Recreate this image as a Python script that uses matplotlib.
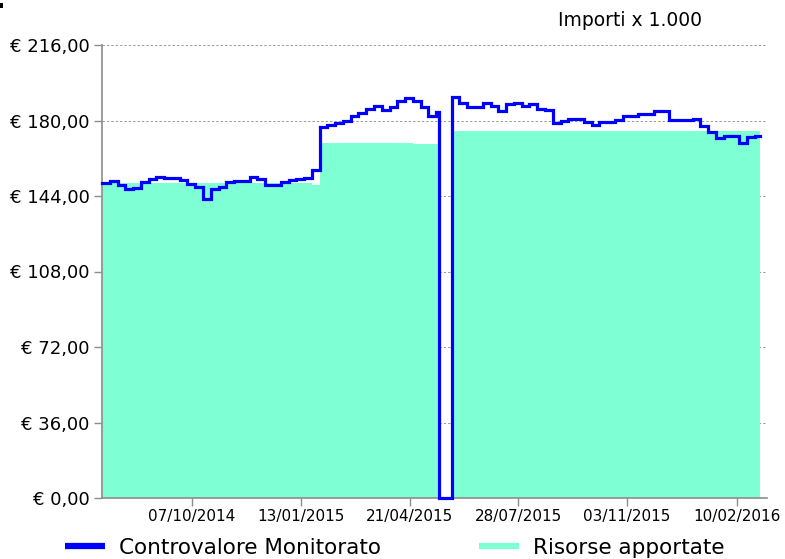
import matplotlib
matplotlib.use("Agg")
import matplotlib.pyplot as plt
import matplotlib.dates as mdates
from matplotlib.lines import Line2D
from matplotlib.patches import Rectangle
import pandas as pd

# ============================================================
# DATI (importi x 1.000)
# ============================================================

CTRL_DATES = [
    "2014-07-18", "2014-07-25", "2014-08-01", "2014-08-08", "2014-08-15",
    "2014-08-22", "2014-08-29", "2014-09-05", "2014-09-12", "2014-09-26",
    "2014-10-03", "2014-10-10", "2014-10-17", "2014-10-24", "2014-10-31",
    "2014-11-07", "2014-11-14", "2014-11-28", "2014-12-05", "2014-12-12",
    "2014-12-26", "2015-01-02", "2015-01-09", "2015-01-16", "2015-01-23",
    "2015-01-30", "2015-02-06", "2015-02-13", "2015-02-20", "2015-02-27",
    "2015-03-06", "2015-03-13", "2015-03-20", "2015-03-27", "2015-04-03",
    "2015-04-10", "2015-04-17", "2015-04-24", "2015-05-01", "2015-05-08",
    "2015-05-15", "2015-05-18", "2015-05-29", "2015-06-05", "2015-06-12",
    "2015-06-26", "2015-07-03", "2015-07-10", "2015-07-17", "2015-07-24",
    "2015-07-31", "2015-08-07", "2015-08-14", "2015-08-21", "2015-08-28",
    "2015-09-04", "2015-09-11", "2015-09-25", "2015-10-02", "2015-10-09",
    "2015-10-16", "2015-10-23", "2015-10-30", "2015-11-13", "2015-11-27",
    "2015-12-11", "2016-01-01", "2016-01-08", "2016-01-15", "2016-01-22",
    "2016-01-29", "2016-02-05", "2016-02-12", "2016-02-19", "2016-02-26",
]
CTRL_VALUES = [
    150.0, 151.2, 149.3, 147.4, 148.0,
    150.8, 152.1, 153.2, 152.5, 151.6,
    149.7, 148.5, 142.4, 147.4, 148.5,
    150.5, 151.2, 153.2, 152.1, 149.4,
    150.8, 151.6, 152.0, 152.5, 156.4,
    177.1, 177.9, 178.6, 180.0, 182.0,
    183.8, 185.3, 187.0, 185.0, 186.3,
    189.3, 190.6, 189.3, 186.6, 182.3,
    183.9, 0.0, 191.1, 188.2, 186.6,
    188.2, 187.1, 184.5, 187.7, 188.2,
    187.1, 187.7, 185.5, 185.0, 179.0,
    180.0, 180.7, 179.3, 177.8, 179.2,
    179.5, 180.3, 182.2, 183.1, 184.6,
    180.3, 180.8, 177.5, 174.5, 171.8,
    172.8, 172.4, 169.3, 171.9, 172.7,
]

RIS_DATES = ["2014-07-18", "2015-01-23", "2015-01-30", "2015-04-24",
             "2015-05-18", "2015-05-29"]
RIS_VALUES = [150.2, 149.4, 169.2, 168.9, 0.0, 175.2]

END_DATE = "2016-03-02"

Y_TICKS = [0, 36, 72, 108, 144, 180, 216]
X_TICKS = ["2014-10-07", "2015-01-13", "2015-04-21", "2015-07-28",
           "2015-11-03", "2016-02-10"]
X_LIMITS = ["2014-07-18", "2016-03-08"]

LINE_COLOR = "#0000FF"
FILL_COLOR = "#7FFFD4"
AXIS_COLOR = "#8c8c8c"


def euro(v, pos=None):
    s = f"{v:,.2f}".replace(",", "X").replace(".", ",").replace("X", ".")
    return "€ " + s


# ============================================================
# GRAFICO
# ============================================================

fig = plt.figure(figsize=(7.85, 5.59), dpi=100)
ax = fig.add_axes([102 / 785, 61 / 559, 665 / 785, 453 / 559])

ris_x = pd.to_datetime(RIS_DATES + [END_DATE])
ris_y = RIS_VALUES + [RIS_VALUES[-1]]
ax.fill_between(ris_x, ris_y, 0, step="post", color=FILL_COLOR, lw=0, zorder=1)

ctrl_x = pd.to_datetime(CTRL_DATES + [END_DATE])
ctrl_y = CTRL_VALUES + [CTRL_VALUES[-1]]
ax.plot(ctrl_x, ctrl_y, drawstyle="steps-post", color=LINE_COLOR, lw=2.3,
        solid_joinstyle="miter", zorder=3, clip_on=False)

ax.set_ylim(0, 216)
ax.set_xlim(pd.to_datetime(X_LIMITS[0]), pd.to_datetime(X_LIMITS[1]))
ax.set_yticks(Y_TICKS)
ax.yaxis.set_major_formatter(plt.FuncFormatter(euro))
ax.set_xticks(pd.to_datetime(X_TICKS))
ax.xaxis.set_major_formatter(mdates.DateFormatter("%d/%m/%Y"))

ax.set_axisbelow(True)
ax.yaxis.grid(True, ls=(0, (2.5, 2)), color="#9a9a9a", lw=0.7)

for side in ["top", "right"]:
    ax.spines[side].set_visible(False)
for side in ["left", "bottom"]:
    ax.spines[side].set_color(AXIS_COLOR)
    ax.spines[side].set_linewidth(1.2)

ax.tick_params(axis="y", length=6, width=1, color=AXIS_COLOR, pad=3,
               labelsize=13)
ax.tick_params(axis="x", length=6, width=1, color=AXIS_COLOR, pad=2,
               labelsize=11)

fig.text(558 / 785, 1 - 21 / 559, "Importi x 1.000", fontsize=13.5,
         va="center", ha="left")

handles = [
    Line2D([], [], color=LINE_COLOR, lw=4.5, solid_capstyle="butt"),
    Line2D([], [], color=FILL_COLOR, lw=4.5, solid_capstyle="butt"),
]
fig.legend(handles, ["Controvalore Monitorato", "Risorse apportate"],
           loc="center left", bbox_to_anchor=(65 / 785, 1 - 548 / 559),
           ncol=2, frameon=False, fontsize=15.5, handlelength=1.85,
           handletextpad=0.65, columnspacing=4.55, borderpad=0,
           borderaxespad=0)

# puntino in alto a sinistra presente nell'originale
fig.add_artist(Rectangle((0, 1 - 8 / 559), 3 / 785, 5 / 559,
                         transform=fig.transFigure, color="black", lw=0))

fig.savefig("out.png", dpi=100)
